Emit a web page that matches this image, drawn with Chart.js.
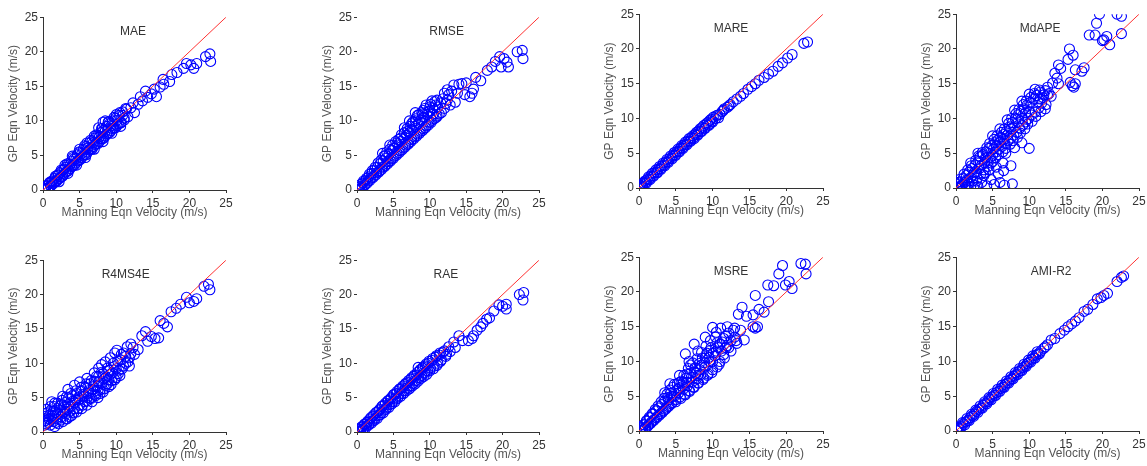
<!DOCTYPE html>
<html>
<head>
<meta charset="utf-8">
<script src="https://cdn.jsdelivr.net/npm/chart.js@4.4.0/dist/chart.umd.min.js"></script>
<style>
  body { margin: 0; background: #fff; width: 1147px; height: 466px; overflow: hidden; position: relative; }
  .panel { position: absolute; }
</style>
</head>
<body>
<script>
// axis range and reference line (y = x)
const axisMin = 0, axisMax = 25, tickStep = 5;
const refLine = [0, 25];
const xTitle = 'Manning Eqn Velocity (m/s)';
const yTitle = 'GP Eqn Velocity (m/s)';
const panelNames = ['MAE', 'RMSE', 'MARE', 'MdAPE', 'R4MS4E', 'RAE', 'MSRE', 'AMI-R2'];

// [Manning, GP] pairs
const maeData = [
  [0.1,0.2],[0.3,0.1],[0.5,0.6],[0.7,0.3],[0.9,1.0],[1.0,0.6],[1.2,1.3],[1.4,0.9],[1.6,1.7],[1.7,1.2],
  [1.9,2.1],[2.1,1.6],[2.3,2.5],[2.5,1.9],[2.7,2.9],[2.9,2.3],[3.1,3.3],[3.3,2.7],[3.5,3.8],[3.7,3.1],
  [3.9,4.2],[4.1,3.5],[4.3,4.6],[4.5,3.9],[4.7,5.1],[4.9,4.3],[5.1,5.5],[5.3,4.7],[5.5,5.9],[5.7,5.1],
  [5.9,6.3],[6.1,5.5],[6.3,6.8],[6.5,5.9],[6.7,7.1],[6.9,6.3],[7.1,7.5],[7.3,6.7],[7.5,7.9],[7.7,7.0],
  [7.9,8.3],[8.1,7.4],[8.3,8.7],[8.5,7.8],[8.2,9.8],[8.7,9.2],[8.9,8.2],[9.1,9.6],[9.3,8.6],[9.5,10.0],
  [9.7,9.0],[9.9,10.4],[10.1,9.3],[10.4,10.8],[10.6,9.7],[10.9,11.3],[11.1,10.1],[11.4,11.7],[11.6,10.6],
  [12.0,11.9],[12.3,12.6],[12.5,11.2],[13.0,12.4],[13.3,13.5],[13.6,12.9],[14.0,14.3],[14.3,13.4],
  [14.8,13.9],[15.2,14.6],[15.5,13.5],[16.0,14.9],[16.5,15.3],[16.4,16.0],[17.3,15.7],[17.6,16.7],
  [18.3,17.0],[19.2,17.6],[19.6,18.3],[20.2,18.1],[20.6,17.6],[21.0,18.3],[22.2,19.3],[22.8,19.7],[22.9,18.6],
  [0.1,0.3],[0.3,0.1],[0.5,0.6],[0.7,0.3],[0.9,1.1],[1.1,0.6],[1.3,1.2],[1.5,1.1],[1.7,2.0],[1.9,1.3],
  [2.1,2.2],[2.3,1.7],[2.5,2.9],[2.7,2.0],[2.9,3.0],[3.1,2.6],[3.3,3.8],[3.5,2.8],[3.7,3.7],[3.9,3.4],
  [4.1,4.7],[4.3,3.6],[4.5,4.5],[4.7,4.2],[4.9,5.5],[5.1,4.4],[5.3,5.3],[5.5,5.0],[5.7,6.4],[5.9,5.1],
  [6.1,6.1],[6.3,5.8],[6.5,7.2],[6.7,5.9],[6.9,6.9],[7.1,6.6],[7.3,8.0],[7.5,6.7],[7.7,7.7],[7.9,7.4],
  [8.1,8.9],[8.3,7.5],[8.5,8.5],[8.7,8.1],[8.9,9.8],[9.1,8.3],[9.3,9.3],[9.5,8.9],[9.7,10.5],[9.9,9.0],
  [10.1,10.1],[10.3,9.6],[10.5,11.2],[10.7,9.8],[10.9,10.8],[11.1,10.4],[11.3,11.8],
  [3.0,3.6],[4.0,4.9],[5.0,5.9],[6.0,6.8],[7.0,7.8],[8.0,8.9],[9.0,9.9],[10.0,10.9],[2.2,1.2],[3.4,2.4],
  [4.6,3.6],[5.8,4.7],[7.0,5.9],[8.2,7.0],[9.4,8.2],[10.6,9.2],[8.5,10.0],[7.6,9.0]
];
const rmseData = [
  [0.2,0.1],[0.4,0.5],[0.6,0.2],[0.8,1.0],[1.0,0.6],[1.2,1.4],[1.4,1.0],[1.6,1.9],[1.8,1.4],[2.0,2.4],
  [2.2,1.8],[2.4,2.9],[2.6,2.2],[2.8,3.3],[3.0,2.6],[3.2,3.8],[3.4,3.0],[3.6,4.2],[3.8,3.4],[3.9,5.0],
  [4.0,4.6],[4.2,3.8],[4.4,5.2],[4.6,4.2],[4.8,5.7],[5.0,4.6],[5.2,6.1],[5.4,5.0],[5.5,6.8],[5.6,6.5],
  [5.8,5.4],[6.0,7.0],[6.2,5.8],[6.4,7.4],[6.6,6.2],[6.8,7.9],[7.0,6.6],[7.2,8.3],[7.4,7.0],[7.6,8.7],
  [7.5,9.6],[7.8,7.4],[8.0,9.2],[8.2,7.8],[8.4,9.6],[8.3,10.8],[8.6,8.2],[8.8,10.1],[9.0,8.6],[9.2,10.5],
  [9.1,11.5],[9.4,9.0],[9.6,10.9],[9.8,9.4],[10.0,11.4],[10.2,9.8],[10.4,11.9],[10.6,10.3],[10.8,12.3],
  [11.0,10.7],[11.5,12.6],[11.6,11.2],[12.0,11.8],[12.4,13.0],[12.8,12.3],[13.0,14.3],[13.5,12.7],
  [14.0,15.3],[14.4,15.4],[14.8,13.8],[15.0,15.5],[15.5,13.5],[15.8,14.0],[16.0,14.6],[16.3,16.3],
  [17.0,15.8],[17.9,17.3],[18.5,17.8],[19.0,18.6],[19.6,19.3],[19.8,17.8],[20.2,19.0],[20.6,18.5],
  [20.8,17.8],[22.0,20.0],[22.7,20.2],[22.8,19.0],
  [0.1,0.4],[0.3,0.0],[0.5,0.8],[0.7,0.4],[0.9,1.3],[1.1,0.8],[1.3,1.7],[1.5,1.3],[1.7,2.3],[1.9,1.7],
  [2.1,2.8],[2.3,2.0],[2.5,3.3],[2.7,2.5],[2.9,3.9],[3.1,2.8],[3.3,4.3],[3.5,3.3],[3.7,4.9],[3.9,3.6],
  [4.1,5.5],[4.3,4.1],[4.5,5.9],[4.7,4.5],[4.9,6.5],[5.1,4.9],[5.3,7.0],[5.5,5.3],[5.7,7.3],[5.9,5.7],
  [6.1,8.0],[6.3,6.1],[6.5,8.3],[6.7,6.5],[6.9,8.9],[7.1,6.8],[7.3,9.2],[7.5,7.3],[7.7,9.9],[7.9,7.7],
  [8.1,10.3],[8.3,8.1],[8.5,10.9],[8.7,8.5],[8.9,11.2],[9.1,8.9],[9.3,11.8],[9.5,9.3],[9.7,11.3],[9.9,9.8],
  [10.1,12.4],[10.3,10.1],[10.5,11.0],[10.7,12.8],[10.9,10.5],[11.1,12.0],[11.3,11.0],[11.8,13.2],
  [12.2,12.5],[12.6,13.8],[13.3,15.2],[13.8,14.0],
  [5.0,6.0],[6.0,7.5],[7.0,8.5],[8.0,10.0],[9.0,11.0],[10.0,12.0],[6.5,9.0],[7.2,10.0],[8.0,11.2],
  [9.5,12.3],[10.3,12.9],[11.0,13.0],[12.0,14.0],[12.4,14.5],[4.5,6.5],[3.5,5.3]
];
const mareData = [
  [0.1,0.1],[0.4,0.3],[0.6,0.7],[0.9,0.8],[1.1,1.2],[1.4,1.3],[1.6,1.7],[1.9,1.8],[2.1,2.2],[2.4,2.3],
  [2.6,2.7],[2.9,2.8],[3.1,3.2],[3.4,3.3],[3.6,3.7],[3.9,3.8],[4.1,4.2],[4.4,4.3],[4.6,4.7],[4.9,4.8],
  [5.1,5.2],[5.4,5.3],[5.6,5.7],[5.9,5.8],[6.1,6.2],[6.4,6.3],[6.6,6.7],[6.9,6.8],[7.1,7.2],[7.4,7.2],
  [7.6,7.7],[7.9,7.7],[8.1,8.2],[8.4,8.2],[8.6,8.7],[8.9,8.6],[9.1,9.2],[9.4,9.1],[9.6,9.7],[9.9,9.6],
  [10.1,10.2],[10.4,10.0],[10.7,10.5],[11.0,10.6],[11.3,11.0],[11.6,11.4],[12.0,11.6],[12.4,12.0],
  [12.8,12.4],[13.3,12.8],[13.8,13.2],[14.2,13.6],[14.8,14.2],[15.3,14.6],[15.8,15.0],[16.3,15.5],
  [17.0,15.9],[17.6,16.4],[18.2,16.8],[18.9,17.5],[19.5,18.0],[20.2,18.7],[20.8,19.2],[22.4,20.8],[22.9,21.0],
  [0.2,0.4],[0.5,0.1],[0.8,1.0],[1.0,0.7],[1.3,1.6],[1.5,1.2],[1.8,2.1],[2.0,1.7],[2.3,2.6],[2.5,2.2],
  [2.8,3.1],[3.0,2.7],[3.3,3.6],[3.5,3.2],[3.8,4.1],[4.0,3.7],[4.3,4.6],[4.5,4.2],[4.8,5.1],[5.0,4.7],
  [5.3,5.6],[5.5,5.2],[5.8,6.1],[6.0,5.7],[6.3,6.6],[6.5,6.2],[6.8,7.1],[7.0,6.7],[7.3,7.5],[7.5,7.1],
  [7.8,8.0],[8.0,7.6],[8.3,8.5],[8.5,8.1],[8.8,9.0],[9.0,8.6],[9.3,9.4],[9.5,9.0],[9.8,9.9],[10.0,9.5],
  [10.5,10.4],[10.8,10.1],[11.5,11.2],[12.2,11.8]
];
const mdapeData = [
  [0.1,0.1],[0.3,0.5],[0.5,0.2],[0.7,0.9],[0.9,0.5],[1.0,1.4],[1.2,0.8],[1.4,1.8],[1.5,1.1],[1.8,2.3],
  [2.0,1.5],[2.2,2.8],[2.4,1.9],[2.6,3.3],[2.8,2.3],[3.0,3.8],[3.2,2.8],[3.3,4.5],[3.5,3.3],[3.7,4.8],
  [3.9,3.6],[4.1,5.2],[4.3,4.0],[4.5,5.7],[4.7,4.4],[4.9,6.1],[5.0,4.7],[5.3,6.5],[5.5,5.2],[5.7,6.9],
  [5.9,5.6],[6.1,7.3],[6.3,6.0],[6.5,7.7],[6.7,6.4],[6.9,8.2],[7.1,6.8],[7.3,8.8],[7.5,7.2],[7.7,9.4],
  [7.9,7.6],[8.1,10.0],[8.3,8.0],[8.5,10.5],[8.7,8.6],[8.9,11.0],[9.1,9.0],[9.3,11.4],[9.5,9.5],[9.7,11.9],
  [9.9,10.0],[10.1,12.3],[10.3,10.5],[10.6,12.8],[10.8,10.9],[11.0,13.3],[11.3,11.5],[11.5,13.8],
  [11.7,12.2],[12.0,13.4],[12.3,12.0],[12.7,13.6],[13.0,13.2],[12.5,14.5],
  [13.2,15.1],[13.5,16.5],[13.8,15.8],[14.0,17.7],[14.3,17.2],[14.0,15.0],[15.5,20.0],[15.3,18.5],
  [16.0,19.1],[16.3,17.0],[17.5,17.3],[17.2,16.8],[18.2,22.0],[19.0,22.0],[19.2,23.7],[19.6,25.0],
  [20.2,21.3],[20.6,21.8],[20.0,21.2],[21.0,20.6],[22.0,25.0],[22.6,24.7],[22.6,22.2],[15.6,15.2],
  [15.9,14.7],[16.1,14.5],[16.3,15.0],
  [10.0,5.7],[7.5,3.2],[6.8,5.0],[5.5,3.0],[4.5,2.6],[3.8,1.8],[4.8,1.2],[3.5,0.8],[5.2,0.5],[6.0,0.8],
  [6.6,0.4],[7.7,0.6],[4.2,0.3],[2.5,0.4],[2.8,1.0],[5.8,2.0],[6.4,3.6],[8.0,5.8],[9.0,6.5],[2.0,0.2],
  [3.0,0.2],[1.5,0.1],[4.0,2.2],[5.0,3.8],[6.5,2.5],
  [0.2,0.8],[0.4,0.0],[0.6,1.3],[0.8,0.3],[1.1,2.0],[1.3,0.4],[1.6,2.6],[1.7,0.6],[2.1,3.2],[2.3,1.0],
  [2.5,2.2],[2.7,4.0],[2.9,1.4],[3.1,4.6],[3.4,2.0],[3.6,5.1],[3.8,2.6],[4.0,4.3],[4.2,5.8],[4.4,3.1],
  [4.6,6.4],[4.8,3.6],[5.1,5.6],[5.2,7.0],[5.4,4.3],[5.6,7.5],[5.8,4.8],[6.0,6.6],[6.2,8.0],[6.4,5.2],
  [6.6,8.5],[6.8,5.7],[7.0,7.6],[7.2,9.3],[7.4,6.3],[7.6,10.0],[7.8,6.8],[8.0,8.8],[8.2,10.7],[8.4,7.3],
  [8.6,11.3],[8.8,7.9],[9.0,10.0],[9.2,12.0],[9.4,8.5],[9.6,12.5],[9.8,9.2],[10.0,11.0],[10.2,13.0],
  [10.4,9.6],[10.7,13.6],[10.9,10.3],[11.2,12.4],[11.4,14.1],[11.6,11.0],[11.9,13.0],[12.2,11.4],[12.5,13.4],
  [5.0,7.5],[6.0,8.5],[7.0,9.8],[8.0,11.2],[9.0,12.5],[10.0,13.5],[10.8,14.2],[9.5,10.8],[8.5,9.5],
  [7.5,8.5],[6.5,7.0],[5.5,6.0],[11.5,12.8],[12.2,14.0],[3.0,5.0],[2.0,3.6]
];
const r4ms4eData = [
  [0.2,1.6],[0.3,2.3],[0.5,1.2],[0.6,2.8],[0.8,1.9],[1.0,1.0],[1.1,3.2],[1.2,2.4],[1.4,1.5],[1.5,3.7],
  [1.6,0.8],[1.7,2.8],[1.9,1.9],[2.0,4.2],[2.1,1.2],[2.3,3.2],[2.5,2.2],[2.6,4.6],[2.7,1.5],[2.9,3.6],
  [3.1,2.6],[3.2,5.1],[3.3,1.9],[3.5,4.0],[3.7,3.0],[3.8,5.6],[3.9,2.4],[4.1,4.5],[4.3,3.4],[4.5,6.0],
  [4.6,2.9],[4.8,5.0],[5.0,3.9],[5.2,6.5],[5.3,3.4],[5.5,5.5],[5.7,4.4],[5.9,7.0],[6.0,3.9],[6.2,6.0],
  [6.4,4.9],[6.6,7.5],[6.7,4.4],[6.9,6.6],[7.1,5.5],[7.3,8.1],[7.5,5.0],[7.6,7.2],[7.8,6.1],[8.0,8.7],
  [8.2,5.8],[8.4,7.8],[8.0,9.8],[8.6,6.8],[8.8,9.3],[9.0,6.6],[9.2,8.4],[9.4,7.5],[9.6,10.0],[9.8,7.6],
  [10.0,9.2],[10.1,11.9],[10.3,8.5],[10.6,10.5],[10.8,9.2],[11.0,11.5],[11.3,10.0],[11.5,12.4],
  [11.8,10.8],[12.3,12.3],[12.5,11.3],[13.0,12.0],[13.5,14.0],[14.0,14.6],[14.3,13.2],[14.8,13.9],
  [15.3,13.6],[15.8,13.7],[16.0,16.2],[16.5,15.8],[17.0,15.3],[17.5,17.5],[18.2,18.0],[18.8,18.6],
  [19.6,19.6],[20.0,18.8],[20.6,19.0],[21.0,19.4],[22.0,21.2],[22.6,21.5],[22.8,20.7],
  [0.1,2.0],[0.4,1.7],[0.4,2.7],[0.7,1.4],[0.9,2.5],[1.0,3.7],[1.3,2.0],[1.4,3.0],[1.6,4.2],[1.8,1.4],
  [2.0,2.6],[2.2,3.7],[2.4,1.7],[2.5,4.0],[2.8,2.8],[3.0,4.3],[3.1,1.9],[3.3,3.3],[3.5,5.0],[3.6,2.2],
  [3.8,3.7],[4.0,5.3],[4.2,2.8],[4.4,4.3],[4.6,5.6],[4.8,3.4],[5.0,4.8],[5.2,6.0],[5.4,3.9],[5.6,5.2],
  [5.8,6.5],[6.0,4.5],[6.2,5.6],[6.4,7.0],[6.6,4.9],[6.8,6.2],[7.0,7.4],[7.2,5.3],[7.4,6.6],[7.6,8.1],
  [7.8,5.6],[8.0,7.1],[8.2,8.5],[8.4,6.3],[8.6,8.0],[8.8,7.0],[9.0,9.0],[9.3,6.9],[9.5,8.6],[9.7,9.5],
  [10.0,7.9],[10.2,10.3],[10.4,9.0],[10.7,11.3],[11.0,9.6],[11.3,11.0],[11.6,10.2],[12.0,12.8],[12.0,11.4],
  [0.2,1.0],[0.5,3.3],[1.2,4.4],[2.7,5.2],[3.4,6.2],[4.3,6.8],[5.0,7.3],[6.0,7.8],[7.0,8.6],[7.6,9.3],
  [8.5,10.2],[9.2,10.8],[9.8,11.5],[1.5,2.3],[3.0,3.0],[4.5,4.7],[6.0,5.0],[7.5,6.0],[9.0,7.6],[10.5,8.2],[11.8,9.6]
];
const raeData = [
  [0.1,0.1],[0.3,0.4],[0.5,0.2],[0.7,0.8],[0.9,0.5],[1.1,1.2],[1.3,0.9],[1.5,1.6],[1.7,1.2],[1.9,2.1],
  [2.1,1.6],[2.3,2.5],[2.5,2.0],[2.7,2.9],[2.9,2.4],[3.1,3.3],[3.3,2.8],[3.5,3.8],[3.7,3.2],[3.9,4.2],
  [4.1,3.6],[4.3,4.6],[4.5,4.0],[4.7,5.0],[4.9,4.4],[5.1,5.5],[5.3,4.8],[5.5,5.9],[5.7,5.2],[5.9,6.3],
  [6.1,5.6],[6.3,6.7],[6.5,6.0],[6.7,7.1],[6.9,6.4],[7.1,7.5],[7.3,6.7],[7.5,7.9],[7.7,7.1],[7.9,8.3],
  [8.1,7.5],[8.3,8.7],[8.5,7.9],[8.4,9.4],[8.7,9.1],[8.9,8.2],[9.1,9.5],[9.3,8.6],[9.5,9.9],[9.7,8.9],
  [9.9,10.3],[10.1,9.3],[10.4,10.7],[10.6,9.6],[10.9,11.1],[11.1,10.0],[11.4,11.5],[11.6,10.5],
  [12.0,11.8],[12.2,11.0],[12.6,12.4],[12.8,11.7],[13.3,13.1],[13.5,12.3],[14.0,14.0],[14.5,13.3],
  [15.3,13.3],[15.8,13.6],[16.0,14.0],[16.5,14.8],[17.0,15.3],[17.3,15.8],[17.8,16.4],[18.2,16.6],
  [18.8,17.6],[19.5,18.5],[20.0,18.3],[20.5,17.9],[20.5,18.6],[22.3,20.0],[22.8,19.2],[22.9,20.3],
  [0.2,0.3],[0.4,0.0],[0.6,0.7],[0.8,0.3],[1.0,1.1],[1.2,0.6],[1.4,1.4],[1.6,1.0],[1.8,1.9],[2.0,1.3],
  [2.2,2.3],[2.4,1.7],[2.6,2.8],[2.8,2.0],[3.0,3.1],[3.2,2.5],[3.4,3.7],[3.6,2.8],[3.8,3.9],[4.0,3.3],
  [4.2,4.5],[4.4,3.6],[4.6,4.8],[4.8,4.1],[5.0,5.4],[5.2,4.4],[5.4,5.6],[5.6,4.9],[5.8,6.2],[6.0,5.2],
  [6.2,6.4],[6.4,5.6],[6.6,6.9],[6.8,6.0],[7.0,7.2],[7.2,6.3],[7.4,7.7],[7.6,6.7],[7.8,8.1],[8.0,7.0],
  [8.2,8.3],[8.4,7.4],[8.6,8.9],[8.8,7.8],[9.0,9.3],[9.2,8.1],[9.4,9.6],[9.6,8.4],[9.8,10.0],[10.0,8.9],
  [10.3,10.4],[10.5,9.2],[10.8,10.9],[11.0,9.7],[11.3,11.2],[11.5,10.3],[11.8,11.6],[12.3,11.3]
];
const msreData = [
  [0.1,0.1],[0.3,0.5],[0.5,0.2],[0.7,0.9],[0.9,0.5],[1.1,1.4],[1.3,0.9],[1.5,1.9],[1.7,1.3],[1.9,2.4],
  [2.1,1.7],[2.3,2.9],[2.5,2.1],[2.7,3.3],[2.9,2.5],[3.1,3.8],[3.3,2.9],[3.5,4.3],[3.7,3.3],[3.9,4.8],
  [4.1,3.7],[4.3,5.4],[4.5,4.1],[4.6,6.3],[4.8,5.0],[5.0,4.5],[5.2,6.8],[5.4,5.5],[5.6,4.9],[5.8,7.2],
  [6.0,6.0],[6.2,5.3],[6.4,7.6],[6.3,11.1],[6.6,6.5],[6.8,5.8],[7.0,8.3],[7.2,7.0],[7.4,6.3],[7.5,12.5],
  [7.6,9.1],[7.8,7.5],[8.0,6.9],[8.2,9.7],[8.4,8.1],[8.6,10.5],[8.8,7.6],[9.0,9.2],[9.2,11.2],[9.4,8.2],
  [9.6,10.0],[9.8,12.0],[10.0,14.9],[10.0,8.8],[10.3,10.8],[10.6,12.7],[10.9,9.6],[11.1,14.8],
  [11.2,11.5],[11.5,13.3],[11.6,10.5],[12.0,12.3],[12.2,14.1],[12.5,11.5],[13.0,13.5],[13.3,12.6],
  [13.5,16.8],[13.8,14.5],[14.0,17.8],[14.3,13.1],[14.6,16.5],[15.5,16.7],[15.8,19.5],[15.5,15.0],
  [15.8,14.8],[16.1,15.0],[16.3,17.5],[17.0,17.1],[17.5,21.0],[17.6,18.6],[18.3,20.9],[19.0,22.6],
  [19.5,23.8],[19.9,21.0],[20.4,21.5],[20.8,20.5],[22.0,24.1],[22.6,24.0],[22.7,22.6],
  [0.2,0.4],[0.4,0.0],[0.6,0.9],[0.8,0.3],[1.0,1.5],[1.2,0.7],[1.4,2.0],[1.6,1.1],[1.8,2.5],[2.0,1.5],
  [2.2,3.1],[2.4,1.9],[2.6,3.6],[2.8,2.3],[3.0,4.2],[3.2,2.7],[3.4,4.7],[3.6,3.1],[3.8,5.3],[4.0,3.5],
  [4.2,5.9],[4.4,3.9],[4.6,5.0],[4.8,6.7],[5.0,4.2],[5.3,6.0],[5.5,7.0],[5.7,4.7],[5.9,6.4],[6.1,8.0],
  [6.3,5.2],[6.5,7.0],[6.7,9.0],[6.9,5.7],[7.1,7.7],[7.3,9.8],[7.5,6.3],[7.7,8.3],[7.9,10.4],[8.1,6.9],
  [8.3,8.8],[8.5,11.3],[8.7,7.4],[8.9,9.8],[9.1,12.2],[9.3,8.0],[9.5,10.6],[9.7,13.0],[9.9,8.4],
  [10.1,11.2],[10.4,13.5],[10.6,9.2],[10.8,12.0],[11.0,10.0],[11.3,12.8],[11.5,11.0],[11.8,13.7],
  [12.2,12.0],[12.8,14.5],[13.2,13.0],
  [4.0,4.5],[4.4,5.0],[5.0,5.8],[5.5,6.2],[6.0,7.0],[6.5,8.2],[7.0,9.5],[7.5,8.5],[8.0,8.0],[8.5,9.5],
  [9.0,10.5],[9.5,11.5],[10.0,10.0],[10.5,11.5],[11.0,12.5],[11.8,12.0],[12.5,13.0],[6.8,10.0],[8.0,11.5],
  [9.0,13.5],[10.5,14.2],[12.0,15.0],[13.0,14.8],[5.5,8.0],[4.2,6.8],[3.5,5.5]
];
const amiData = [
  [0.1,0.1],[0.4,0.4],[0.7,0.6],[1.0,1.0],[1.3,1.3],[1.6,1.5],[1.9,1.9],[2.2,2.2],[2.5,2.4],[2.8,2.8],
  [3.1,3.1],[3.4,3.3],[3.7,3.7],[4.0,4.0],[4.3,4.2],[4.6,4.6],[4.9,4.9],[5.2,5.1],[5.5,5.5],[5.8,5.7],
  [6.1,6.1],[6.4,6.3],[6.7,6.7],[7.0,6.9],[7.3,7.3],[7.6,7.5],[7.9,7.9],[8.2,8.1],[8.5,8.5],[8.8,8.7],
  [9.1,9.1],[9.4,9.3],[9.7,9.7],[10.0,9.9],[10.3,10.3],[10.6,10.5],[10.9,10.9],[11.2,11.1],[11.6,11.5],
  [12.0,11.9],[12.5,12.4],[13.0,13.1],[13.5,13.3],[14.2,14.0],[14.8,14.5],[15.3,15.0],[15.8,15.4],
  [16.3,15.8],[16.8,16.3],[17.5,17.2],[18.0,17.5],[18.7,18.2],[19.3,19.0],[19.8,19.2],[20.2,19.5],
  [20.7,19.8],[22.0,21.5],[22.6,22.1],[22.9,22.3],
  [0.2,0.0],[0.3,0.6],[0.6,0.3],[0.9,1.2],[1.2,0.9],[1.5,1.8],[1.8,1.5],[2.1,2.4],[2.4,2.1],[2.7,3.0],
  [3.0,2.7],[3.3,3.6],[3.6,3.3],[3.9,4.2],[4.2,3.9],[4.5,4.8],[4.8,4.5],[5.1,5.4],[5.4,5.1],[5.7,6.0],
  [6.0,5.7],[6.3,6.6],[6.6,6.3],[6.9,7.2],[7.2,6.9],[7.5,7.8],[7.8,7.5],[8.1,8.4],[8.4,8.1],[8.7,9.0],
  [9.0,8.7],[9.3,9.6],[9.6,9.3],[9.9,10.2],[10.2,9.9],[10.5,10.8],[10.8,10.5],[11.1,11.4],[11.4,11.1],[12.2,12.1]
];
const panelData = [maeData, rmseData, mareData, mdapeData, r4ms4eData, raeData, msreData, amiData];

// layout: plot area [left, top, right, bottom] in page pixels
const plotBoxes = [
  [43, 16, 226, 190], [357, 16, 539, 190], [639, 13, 823, 188], [956, 13, 1139, 188],
  [43, 259, 226, 432], [357, 259, 539, 432], [639, 256, 823, 431], [956, 256, 1139, 431]
];
const labelX = [12.3, 12.3, 12.5, 11.5, 11.3, 12.2, 12.5, 13.0];
const noYSpine = [false, true, false, false, false, true, false, false];

const PAD_L = 45, PAD_T = 8, PAD_R = 12, PAD_B = 32;
Chart.defaults.font.family = "'Liberation Sans', Arial, sans-serif";

const panelLabel = {
  id: 'panelLabel',
  afterDraw(chart, args, opts) {
    const { ctx, chartArea } = chart;
    ctx.save();
    ctx.font = "12px 'Liberation Sans', Arial, sans-serif";
    ctx.fillStyle = '#333';
    ctx.textAlign = 'center';
    ctx.textBaseline = 'middle';
    ctx.fillText(opts.text, chart.scales.x.getPixelForValue(opts.x), chartArea.top + 14);
    ctx.restore();
  }
};

panelData.forEach((pts, i) => {
  const [l, t, r, b] = plotBoxes[i];
  const w = (r - l) + PAD_L + PAD_R, h = (b - t) + PAD_T + PAD_B;
  const div = document.createElement('div');
  div.className = 'panel';
  div.style.left = (l - PAD_L) + 'px';
  div.style.top = (t - PAD_T) + 'px';
  const cv = document.createElement('canvas');
  cv.width = w; cv.height = h;
  cv.style.width = w + 'px'; cv.style.height = h + 'px';
  div.appendChild(cv);
  document.body.appendChild(div);

  new Chart(cv, {
    type: 'scatter',
    data: {
      datasets: [
        {
          data: pts.map(p => ({ x: p[0], y: p[1] })),
          pointStyle: 'circle',
          pointRadius: 5,
          borderColor: '#0000ff',
          backgroundColor: 'rgba(0,0,0,0)',
          borderWidth: 1.1,
          order: 1
        },
        {
          type: 'line',
          data: refLine.map(v => ({ x: v, y: v })),
          borderColor: '#ff3333',
          borderWidth: 1,
          pointRadius: 0,
          order: 0
        }
      ]
    },
    options: {
      responsive: false,
      animation: false,
      devicePixelRatio: 1,
      layout: { padding: { top: PAD_T, right: PAD_R, left: 0, bottom: 0 } },
      plugins: {
        legend: { display: false },
        tooltip: { enabled: false },
        panelLabel: { text: panelNames[i], x: labelX[i] }
      },
      scales: {
        x: {
          type: 'linear', min: axisMin, max: axisMax,
          ticks: { stepSize: tickStep, color: '#333', font: { size: 12 }, padding: 3, maxRotation: 0 },
          grid: { drawOnChartArea: false, tickLength: 3, color: '#333' },
          border: { color: '#333' },
          title: { display: true, text: xTitle, color: '#555', font: { size: 12 }, padding: { top: 0, bottom: 2 } },
          afterFit: s => { s.height = PAD_B; }
        },
        y: {
          type: 'linear', min: axisMin, max: axisMax,
          ticks: { stepSize: tickStep, color: '#333', font: { size: 12 }, padding: 2 },
          grid: { drawOnChartArea: false, tickLength: 3, color: '#333' },
          border: { display: !noYSpine[i], color: '#333' },
          title: { display: true, text: yTitle, color: '#555', font: { size: 12 }, padding: { top: 8, bottom: 0 } },
          afterFit: s => { s.width = PAD_L; }
        }
      }
    },
    plugins: [panelLabel]
  });
});
</script>
</body>
</html>
